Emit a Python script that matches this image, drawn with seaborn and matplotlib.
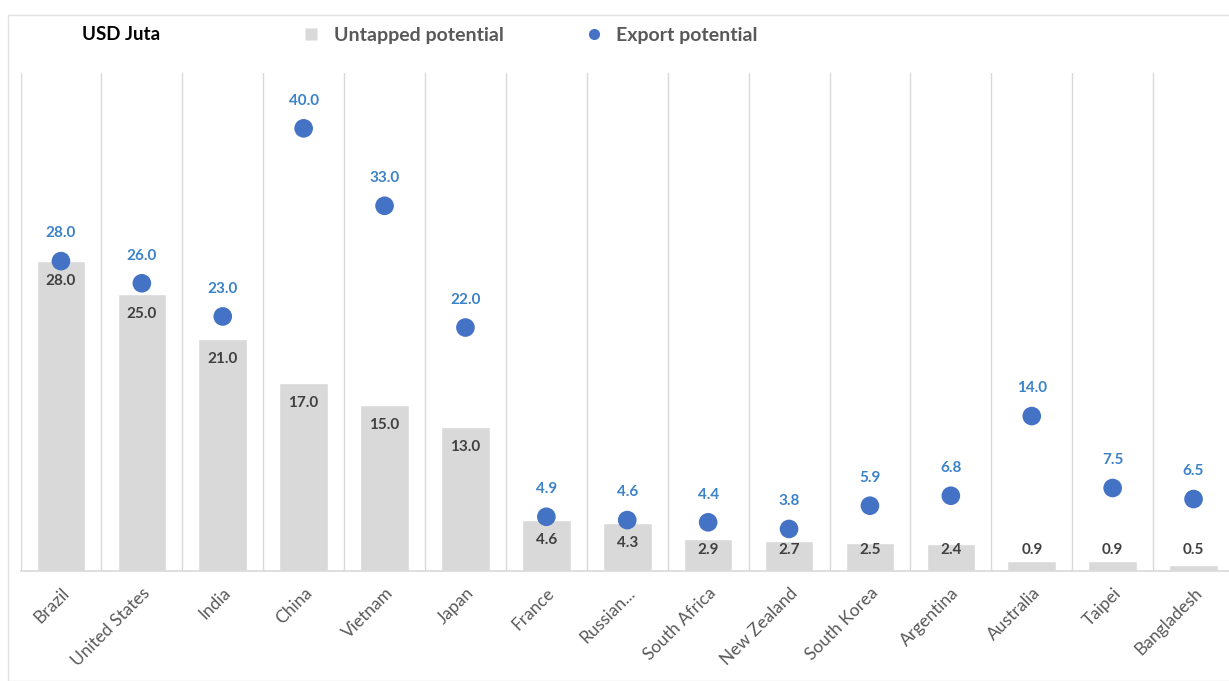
import numpy as np
import pandas as pd
import matplotlib
matplotlib.use("Agg")
import matplotlib.pyplot as plt
from matplotlib.patches import Rectangle
from matplotlib.lines import Line2D
import seaborn as sns

countries = ["Brazil", "United States", "India", "China", "Vietnam", "Japan",
             "France", "Russian...", "South Africa", "New Zealand", "South Korea",
             "Argentina", "Australia", "Taipei", "Bangladesh"]
untapped = [28.0, 25.0, 21.0, 17.0, 15.0, 13.0, 4.6, 4.3, 2.9, 2.7, 2.5, 2.4, 0.9, 0.9, 0.5]
export = [28.0, 26.0, 23.0, 40.0, 33.0, 22.0, 4.9, 4.6, 4.4, 3.8, 5.9, 6.8, 14.0, 7.5, 6.5]

df = pd.DataFrame({"country": countries, "untapped": untapped, "export": export})

sns.set_theme(style="white")
plt.rcParams["font.family"] = ["Lato", "DejaVu Sans"]

BAR_C = "#d9d9d9"
DOT_C = "#4472c4"
DOT_TXT = "#3b82c8"
BAR_TXT = "#404040"
GRID_C = "#d9d9d9"

W, H = 1229, 681
fig = plt.figure(figsize=(W / 100, H / 100), dpi=100)

# outer chart frame
fig.add_artist(Rectangle((8 / W, 0), 1.0, 1 - 15 / H, transform=fig.transFigure,
                         fill=False, edgecolor="#e3e3e3", linewidth=1.0))

slot = 80.9
left = 20.5
ax = fig.add_axes([left / W, 110 / H, 15 * slot / W, 498 / H])

sns.barplot(data=df, x="country", y="untapped", order=countries, color=BAR_C,
            width=0.6, saturation=1, ax=ax, zorder=2)
sns.scatterplot(data=df, x="country", y="export", color=DOT_C, s=180,
                edgecolor="none", ax=ax, zorder=4, legend=False)

ax.set_xlim(-0.5, len(countries) - 0.5)
ax.set_ylim(0, 45)

# vertical separators between categories
for b in np.arange(-0.5, len(countries) + 0.5, 1.0):
    ax.axvline(b, color=GRID_C, linewidth=1.0, zorder=1)

for s in ["top", "right", "left"]:
    ax.spines[s].set_visible(False)
ax.spines["bottom"].set_color(GRID_C)
ax.spines["bottom"].set_linewidth(1.2)

ax.set_yticks([])
ax.set_xlabel("")
ax.set_ylabel("")
ax.tick_params(axis="x", length=0, pad=10)
ax.set_xticks(range(len(countries)))
ax.set_xticklabels(countries, rotation=45, ha="right", rotation_mode="anchor",
                   color="#595959", fontsize=12.5)

# value labels
for i, (u, e) in enumerate(zip(untapped, export)):
    ax.text(i, e + 2.5, f"{e:.1f}", ha="center", va="center", color=DOT_TXT,
            fontsize=11, fontweight="bold", zorder=5)
    ax.text(i, max(u - 1.8, 1.9), f"{u:.1f}", ha="center", va="center",
            color=BAR_TXT, fontsize=11, fontweight="bold", zorder=5)

handles = [Line2D([0], [0], marker="s", linestyle="none", markersize=8,
                  markerfacecolor=BAR_C, markeredgecolor="none"),
           Line2D([0], [0], marker="o", linestyle="none", markersize=8,
                  markerfacecolor=DOT_C, markeredgecolor="none")]
fig.legend(handles, ["Untapped potential", "Export potential"], ncol=2,
           loc="center left", bbox_to_anchor=(284 / W, 1 - 35 / H),
           frameon=False, labelcolor="#595959",
           handletextpad=0.65, columnspacing=4.15, handlelength=1.0,
           prop={"weight": "bold", "size": 14})

fig.text(82 / W, 1 - 34 / H, "USD Juta", ha="left", va="center",
         fontsize=13.5, fontweight="bold", color="#000000")

fig.savefig("out.png", dpi=100)
